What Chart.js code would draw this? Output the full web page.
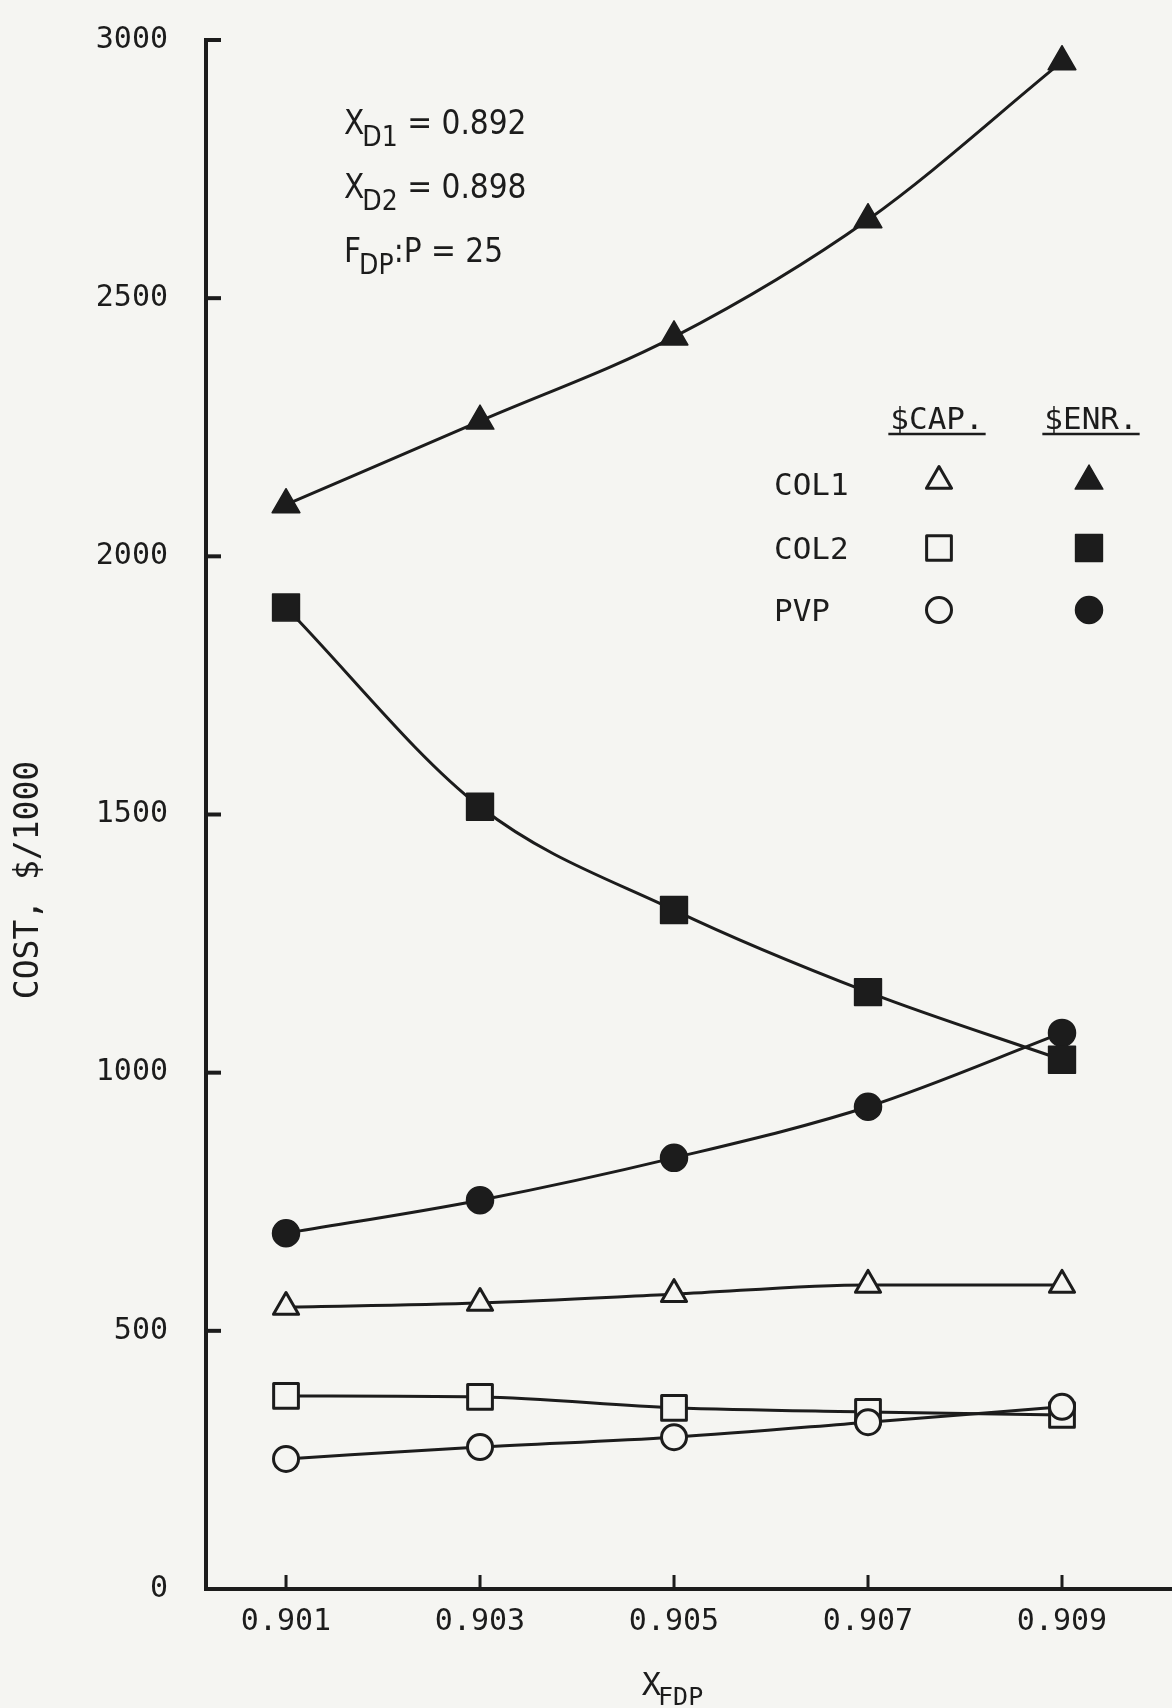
<!DOCTYPE html>
<html><head><meta charset="utf-8">
<script src="https://cdn.jsdelivr.net/npm/chart.js@4.4.1/dist/chart.umd.min.js"></script>
<style>html,body{margin:0;padding:0;background:#f5f5f2;}canvas{display:block;}</style>
</head><body>
<canvas id="c" width="1172" height="1708" style="width:1172px;height:1708px"></canvas>
<script>
// ---- data ----
const xValues = [0.901, 0.903, 0.905, 0.907, 0.909];
const xTickValues = [0.901, 0.903, 0.905, 0.907, 0.909];
const yTickValues = [0, 500, 1000, 1500, 2000, 2500, 3000];
const col1Enr = [2100, 2262, 2425, 2652, 2958];
const col2Enr = [1901, 1515, 1315, 1156, 1025];
const pvpEnr  = [689, 753, 835, 934, 1077];
const col1Cap = [546, 554, 571, 589, 589];
const col2Cap = [374, 372, 351, 343, 337];
const pvpCap  = [252, 275, 294, 323, 353];
const seriesNames = ['COL1', 'COL2', 'PVP'];
const legendHeaders = ['$CAP.', '$ENR.'];
const yTitle = 'COST, $/1000';
const xTitleMain = 'X';
const xTitleSub = 'FDP';
const noteMain = ['X', 'X', 'F'];
const noteSub = ['D1', 'D2', 'DP'];
const noteRest = [' = 0.892', ' = 0.898', ':P = 25'];

// ---- style ----
const ink = '#1c1c1c';
const bg = '#f5f5f2';
const mono = "'DejaVu Sans Mono', monospace";
const narrow = "'Liberation Sans Narrow', 'DejaVu Sans Condensed', 'DejaVu Sans', sans-serif";

const markers = {
  triFilled: {pointStyle: 'triangle', radius: 16, filled: true},
  triOpen:   {pointStyle: 'triangle', radius: 14.5, filled: false},
  rectFilled:{pointStyle: 'rect', radius: 19, filled: true},
  rectOpen:  {pointStyle: 'rect', radius: 17.5, filled: false},
  circFilled:{pointStyle: 'circle', radius: 13.5, filled: true},
  circOpen:  {pointStyle: 'circle', radius: 12.5, filled: false}
};

function ds(label, values, m) {
  return {
    label,
    data: xValues.map((x, i) => ({x, y: values[i]})),
    borderColor: ink,
    borderWidth: 3,
    borderJoinStyle: 'round',
    cubicInterpolationMode: 'monotone',
    fill: false,
    clip: false,
    pointStyle: m.pointStyle,
    pointRadius: m.radius,
    pointHoverRadius: m.radius,
    pointBackgroundColor: m.filled ? ink : bg,
    pointBorderColor: ink,
    pointBorderWidth: m.filled ? 1.5 : 3
  };
}

const datasets = [
  ds('COL1 $ENR.', col1Enr, markers.triFilled),
  ds('COL2 $ENR.', col2Enr, markers.rectFilled),
  ds('PVP $ENR.', pvpEnr, markers.circFilled),
  ds('PVP $CAP.', pvpCap, markers.circOpen),
  ds('COL1 $CAP.', col1Cap, markers.triOpen),
  ds('COL2 $CAP.', col2Cap, markers.rectOpen)
];

function mark(ctx, m, x, y) {
  ctx.save();
  ctx.lineJoin = 'round';
  ctx.fillStyle = m.filled ? ink : bg;
  ctx.strokeStyle = ink;
  ctx.lineWidth = m.filled ? 1.5 : 3;
  Chart.helpers.drawPoint(ctx, {pointStyle: m.pointStyle, radius: m.radius, rotation: 0, borderWidth: ctx.lineWidth}, x, y);
  ctx.restore();
}

const decor = {
  id: 'decor',
  beforeDraw(chart) {
    const ctx = chart.ctx;
    ctx.save();
    ctx.fillStyle = bg;
    ctx.fillRect(0, 0, chart.width, chart.height);
    ctx.restore();
  },
  beforeDatasetsDraw(chart) {
    chart.ctx.lineJoin = 'round';
  },
  afterDraw(chart) {
    const ctx = chart.ctx;
    const xs = chart.scales.x, ys = chart.scales.y;
    const a = chart.chartArea;
    ctx.save();
    ctx.strokeStyle = ink;
    ctx.lineWidth = 4;
    // inward ticks
    yTickValues.forEach(v => {
      const y = ys.getPixelForValue(v);
      ctx.beginPath(); ctx.moveTo(a.left, y); ctx.lineTo(a.left + 15, y); ctx.stroke();
    });
    ctx.lineWidth = 3;
    xTickValues.forEach(v => {
      const x = xs.getPixelForValue(v);
      ctx.beginPath(); ctx.moveTo(x, a.bottom); ctx.lineTo(x, a.bottom - 14); ctx.stroke();
    });
    ctx.fillStyle = ink;
    // y title
    ctx.save();
    ctx.translate(29, 880);
    ctx.rotate(-Math.PI / 2);
    ctx.font = '33px ' + mono;
    ctx.textAlign = 'center';
    ctx.textBaseline = 'middle';
    ctx.fillText(yTitle, 0, 0);
    ctx.restore();
    // x title
    ctx.textBaseline = 'alphabetic';
    ctx.textAlign = 'left';
    ctx.font = '32px ' + mono;
    const xw = ctx.measureText(xTitleMain).width;
    ctx.font = '25px ' + mono;
    const sw = ctx.measureText(xTitleSub).width;
    const x0 = xs.getPixelForValue(0.905) - (xw + sw) / 2;
    ctx.font = '32px ' + mono;
    ctx.fillText(xTitleMain, x0, 1695);
    ctx.font = '25px ' + mono;
    ctx.fillText(xTitleSub, x0 + xw - 3, 1705);
    // notes
    const bases = [134, 198, 262];
    noteMain.forEach((t, i) => {
      let x = 344;
      ctx.font = '33px ' + narrow;
      ctx.fillText(t, x, bases[i]);
      x += ctx.measureText(t).width - 2;
      ctx.font = '28px ' + narrow;
      ctx.fillText(noteSub[i], x, bases[i] + 12);
      x += ctx.measureText(noteSub[i]).width;
      ctx.font = '33px ' + narrow;
      ctx.fillText(noteRest[i], x, bases[i]);
    });
    // legend
    ctx.font = '31px ' + mono;
    ctx.textAlign = 'center';
    ctx.textBaseline = 'middle';
    const colX = [937, 1091];
    legendHeaders.forEach((h, i) => {
      ctx.fillText(h, colX[i], 421);
      const w = ctx.measureText(h).width;
      ctx.lineWidth = 2.5;
      ctx.beginPath(); ctx.moveTo(colX[i] - w / 2 - 2, 434); ctx.lineTo(colX[i] + w / 2 + 2, 434); ctx.stroke();
    });
    ctx.textAlign = 'left';
    const rowY = [487, 551, 613];
    const markY = [481, 548, 610];
    const capM = [markers.triOpen, markers.rectOpen, markers.circOpen];
    const enrM = [markers.triFilled, markers.rectFilled, markers.circFilled];
    seriesNames.forEach((n, i) => {
      ctx.fillStyle = ink;
      ctx.fillText(n, 774, rowY[i]);
      mark(ctx, capM[i], 939, markY[i]);
      mark(ctx, enrM[i], 1089, markY[i]);
    });
    ctx.restore();
  }
};

new Chart(document.getElementById('c'), {
  type: 'line',
  data: {datasets},
  plugins: [decor],
  options: {
    responsive: false,
    animation: false,
    events: [],
    layout: {autoPadding: false, padding: {top: 40, right: 0, bottom: 0, left: 0}},
    plugins: {legend: {display: false}, tooltip: {enabled: false}},
    scales: {
      x: {
        type: 'linear',
        min: 0.900175,
        max: 0.910134,
        afterBuildTicks: s => { s.ticks = xTickValues.map(v => ({value: v})); },
        afterFit: s => { s.height = 119; s.paddingLeft = 0; s.paddingRight = 0; },
        grid: {display: false, drawTicks: false},
        border: {display: true, color: ink, width: 4},
        ticks: {
          color: ink, padding: 15, maxRotation: 0, autoSkip: false,
          font: {family: mono, size: 30},
          callback: v => Number(v).toFixed(3)
        }
      },
      y: {
        type: 'linear',
        min: 0,
        max: 3000,
        afterBuildTicks: s => { s.ticks = yTickValues.map(v => ({value: v})); },
        afterFit: s => { s.width = 206; s.paddingTop = 0; s.paddingBottom = 0; },
        grid: {display: false, drawTicks: false},
        border: {display: true, color: ink, width: 4},
        ticks: {
          color: ink, padding: 38,
          font: {family: mono, size: 30},
          callback: v => String(v)
        }
      }
    }
  }
});
</script>
</body></html>
